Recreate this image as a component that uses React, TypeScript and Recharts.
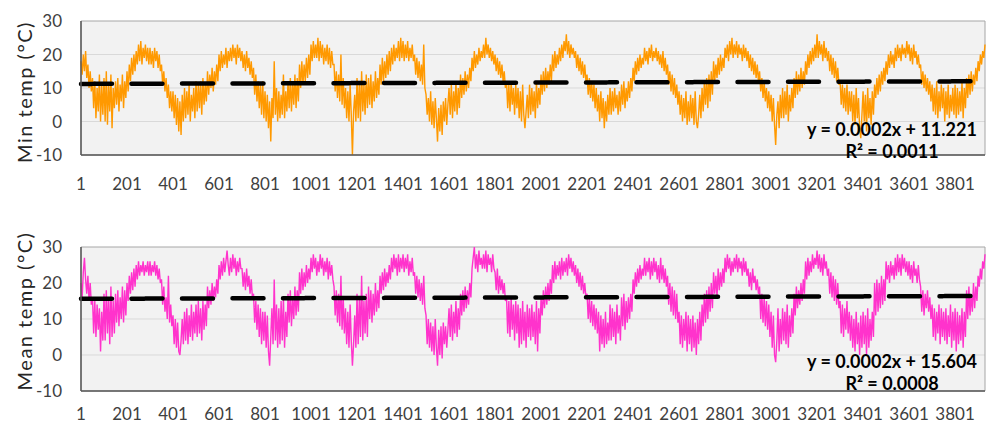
import { CartesianGrid, Line, LineChart, ReferenceArea, XAxis, YAxis } from 'recharts';

// daily record sampled every 5 days, first sample on day 1
const DAY_STEP = 5;
const LAST_DAY = 3931;

const xTicks = [1, 201, 401, 601, 801, 1001, 1201, 1401, 1601, 1801, 2001, 2201, 2401, 2601, 2801, 3001, 3201, 3401, 3601, 3801];
const yTicks = [-10, 0, 10, 20, 30];

// one row per 100 days
const minTemp = [
  18, 14, 20, 15, 21, 13, 17, 10, 15, 9, 13, 4, 12, 1, 10, 3, 14, 0, 11, 2,
  13, 0, 15, -1, 11, 3, 14, -2, 10, 4, 12, 5, 13, 3, 11, 6, 14, 4, 12, 7,
  15, 9, 17, 12, 19, 14, 20, 15, 21, 17, 23, 18, 24, 17, 22, 19, 23, 18, 22, 17,
  22, 17, 21, 16, 22, 18, 21, 16, 20, 15, 17, 11, 15, 9, 13, 7, 11, 4, 9, 3,
  9, 1, 8, -1, 7, -3, 6, -4, 8, 0, 10, 1, 9, 2, 11, 0, 8, 3, 10, 1,
  12, 3, 11, 4, 12, 2, 13, 5, 11, 6, 15, 8, 14, 10, 16, 9, 15, 11, 17, 12,
  20, 15, 21, 16, 20, 17, 22, 16, 21, 18, 22, 18, 23, 19, 22, 17, 23, 19, 22, 18,
  21, 16, 20, 15, 21, 16, 19, 14, 18, 13, 16, 8, 14, 6, 12, 4, 11, 2, 12, 1,
  9, 0, 8, -2, 6, -6, 7, 1, 18, 2, 10, 0, 9, 1, 8, 2, 14, 1, 9, 3,
  12, 4, 13, 3, 12, 5, 14, 4, 13, 6, 17, 10, 18, 11, 17, 12, 19, 13, 20, 14,
  23, 18, 24, 19, 23, 19, 25, 18, 24, 19, 23, 17, 22, 18, 23, 17, 22, 16, 21, 17,
  17, 9, 15, 7, 14, 6, 20, 5, 13, 4, 10, 1, 9, 0, 11, 2, -10, 3, 8, 0,
  13, 1, 12, 0, 15, 3, 11, 2, 14, 4, 13, 5, 14, 4, 12, 6, 15, 7, 13, 8,
  17, 11, 19, 12, 18, 13, 20, 14, 21, 15, 22, 17, 23, 18, 22, 19, 24, 18, 25, 19,
  24, 18, 23, 19, 24, 18, 22, 19, 23, 18, 20, 14, 19, 13, 18, 12, 17, 11, 23, 10,
  8, 2, 7, 0, 9, -1, 6, -2, 7, 1, -6, 4, -3, 5, -4, 6, 0, 7, -1, 5,
  10, 2, 11, 1, 9, 3, 12, 2, 10, 4, 14, 7, 13, 8, 15, 9, 14, 10, 16, 12,
  19, 15, 21, 16, 20, 17, 22, 18, 21, 19, 23, 19, 25, 20, 23, 19, 22, 18, 21, 17,
  20, 15, 19, 14, 18, 13, 17, 12, 15, 10, 12, 4, 11, 3, 12, 5, 10, 2, 11, 4,
  10, 1, 9, 0, 11, 2, -2, 3, 8, 1, 11, 2, 10, 3, 9, 1, 12, 4, 10, 5,
  14, 8, 15, 9, 16, 10, 15, 11, 17, 12, 20, 15, 21, 16, 20, 17, 22, 18, 23, 19,
  24, 21, 26, 20, 24, 19, 23, 20, 22, 19, 21, 16, 20, 15, 19, 14, 18, 13, 17, 12,
  14, 8, 13, 7, 12, 6, 11, 4, 10, 3, 8, 0, 9, 1, 7, -2, 6, 0, 8, 2,
  10, 2, 9, 3, 10, 4, 8, 2, 9, 3, 11, 5, 12, 4, 10, 6, 12, 7, 13, 9,
  16, 12, 18, 14, 19, 15, 20, 16, 19, 17, 22, 18, 21, 17, 22, 19, 23, 18, 21, 19,
  22, 18, 21, 17, 20, 16, 21, 15, 19, 14, 17, 11, 15, 9, 14, 8, 13, 7, 11, 5,
  9, 2, 8, 0, 7, 1, 9, -1, 6, 0, 8, 1, 7, -1, 9, 0, -2, 2, 8, 1,
  10, 3, 12, 5, 13, 4, 14, 6, 15, 8, 18, 12, 17, 13, 19, 14, 20, 15, 19, 16,
  22, 19, 23, 18, 24, 20, 25, 19, 23, 20, 24, 19, 23, 20, 22, 18, 23, 19, 22, 18,
  21, 16, 20, 15, 19, 14, 18, 13, 17, 12, 15, 9, 13, 7, 12, 6, 10, 4, 9, 3,
  8, 0, 7, -1, -7, 2, 6, -2, 8, 1, 10, 1, 9, 2, 11, 0, 8, 3, 10, 4,
  13, 7, 15, 8, 14, 9, 16, 10, 15, 11, 18, 14, 20, 16, 21, 17, 22, 18, 23, 19,
  26, 19, 24, 20, 23, 18, 24, 19, 22, 18, 21, 15, 20, 14, 19, 13, 18, 12, 16, 11,
  12, 5, 11, 4, 10, 3, 11, 2, 9, 3, 9, 0, 8, -1, 10, 1, 7, -2, -5, 2,
  9, 0, 8, -3, 10, 1, 7, -1, 9, 2, 11, 7, 13, 8, 14, 9, 15, 11, 16, 12,
  18, 14, 20, 16, 21, 17, 20, 16, 22, 18, 23, 19, 22, 18, 23, 20, 22, 19, 24, 20,
  23, 18, 22, 17, 23, 19, 21, 17, 20, 16, 17, 11, 15, 10, 14, 9, 13, 8, 12, 6,
  11, 3, 10, 2, 12, 1, 9, 3, 11, 4, 10, 0, 9, 2, 11, 1, 8, 3, 10, 2,
  11, 1, 10, 2, 9, 3, 12, 1, 10, 4, 13, 7, 14, 8, 15, 9, 14, 11, 16, 12,
  18, 15, 20, 17, 21, 19, 23,
];

const meanTemp = [
  20, 16, 23, 27, 21, 17, 22, 15, 20, 14, 16, 6, 15, 5, 14, 7, 13, 1, 12, 4,
  17, 4, 18, 6, 16, 3, 19, 5, 15, 6, 17, 9, 18, 8, 16, 10, 19, 9, 18, 11,
  20, 15, 22, 17, 23, 18, 24, 19, 25, 21, 26, 22, 25, 23, 26, 22, 25, 23, 26, 22,
  26, 22, 25, 23, 26, 22, 25, 21, 24, 20, 21, 14, 19, 12, 16, 10, 22, 9, 14, 8,
  11, 3, 10, 2, 9, 1, 0, 4, 10, 3, 12, 4, 13, 3, 11, 5, 14, 4, 12, 6,
  14, 5, 15, 6, 13, 4, 15, 7, 14, 8, 19, 13, 18, 14, 20, 15, 19, 16, 21, 17,
  25, 21, 26, 22, 27, 23, 26, 29, 25, 22, 27, 23, 28, 24, 27, 22, 26, 23, 27, 24,
  24, 19, 23, 18, 24, 19, 22, 17, 21, 16, 17, 9, 15, 7, 14, 5, 13, 3, 12, 4,
  12, 2, 11, 1, -3, 5, 13, 3, 21, 4, 14, 2, 13, 3, 15, 4, 16, 2, 12, 5,
  17, 9, 18, 8, 16, 10, 19, 11, 18, 12, 23, 17, 24, 18, 23, 19, 25, 20, 24, 21,
  27, 23, 28, 24, 27, 22, 26, 23, 28, 24, 27, 22, 26, 23, 27, 21, 26, 22, 25, 21,
  19, 11, 18, 9, 17, 8, 22, 7, 16, 6, 13, 3, 12, 2, 14, 4, -3, 3, 11, 2,
  17, 3, 16, 5, 22, 4, 15, 6, 17, 5, 19, 10, 18, 9, 17, 11, 20, 12, 18, 13,
  22, 17, 23, 18, 24, 19, 23, 20, 25, 21, 27, 23, 28, 24, 27, 22, 28, 23, 27, 24,
  28, 23, 27, 24, 28, 22, 26, 23, 27, 22, 23, 17, 22, 16, 21, 15, 20, 14, 22, 13,
  11, 3, 10, 2, 9, 1, 8, 0, 10, 2, -3, 7, 0, 8, -1, 9, 3, 8, 2, 7,
  13, 5, 14, 4, 12, 6, 15, 5, 13, 7, 17, 11, 18, 12, 19, 13, 18, 14, 20, 16,
  24, 27, 30, 24, 28, 23, 29, 25, 27, 24, 28, 24, 29, 23, 28, 25, 27, 23, 28, 24,
  23, 18, 24, 17, 22, 18, 21, 17, 20, 15, 16, 6, 15, 5, 16, 7, 14, 4, 15, 6,
  14, 2, 13, 3, 15, 4, 12, 2, 14, 5, 13, 4, 14, 5, 12, 3, 15, 1, 13, 6,
  16, 11, 18, 13, 19, 14, 20, 15, 21, 17, 25, 20, 26, 21, 25, 22, 26, 21, 27, 22,
  26, 23, 27, 22, 28, 24, 27, 23, 26, 22, 25, 20, 24, 19, 23, 18, 22, 17, 20, 16,
  17, 10, 16, 9, 15, 8, 14, 7, 13, 6, 12, 1, 11, 3, 10, 2, 12, 3, 9, 4,
  14, 4, 13, 5, 12, 3, 14, 6, 11, 4, 16, 8, 17, 7, 15, 9, 16, 10, 17, 12,
  21, 17, 23, 19, 24, 20, 25, 21, 24, 22, 27, 22, 26, 23, 27, 21, 26, 22, 27, 23,
  26, 21, 25, 20, 27, 21, 25, 20, 24, 19, 22, 14, 20, 12, 19, 11, 18, 10, 17, 9,
  12, 3, 11, 2, 10, 4, 12, 1, 11, 3, 10, 1, 11, 2, 9, 0, 10, 3, 12, 4,
  14, 8, 17, 9, 18, 10, 19, 12, 20, 13, 23, 17, 22, 16, 24, 18, 23, 19, 24, 20,
  27, 23, 28, 24, 27, 22, 26, 23, 27, 24, 28, 23, 27, 24, 26, 22, 27, 23, 26, 22,
  24, 19, 23, 18, 24, 20, 22, 18, 21, 17, 19, 10, 17, 9, 16, 8, 15, 7, 14, 5,
  12, 2, 11, 0, -2, 4, 13, 1, 10, 3, 13, 4, 12, 3, 14, 2, 11, 5, 13, 6,
  17, 11, 19, 13, 18, 14, 20, 15, 21, 17, 26, 21, 27, 22, 26, 23, 28, 24, 27, 25,
  29, 24, 28, 23, 27, 22, 28, 24, 26, 22, 24, 17, 23, 16, 22, 15, 21, 14, 20, 13,
  15, 6, 14, 5, 13, 7, 15, 6, 12, 4, 11, 2, 10, 1, 12, 3, 9, 0, 11, 2,
  12, 3, 11, 0, 13, 2, 10, 4, 12, 5, 20, 11, 21, 12, 20, 13, 22, 14, 21, 15,
  26, 21, 25, 20, 26, 22, 25, 21, 27, 22, 28, 23, 27, 22, 28, 24, 27, 23, 26, 22,
  26, 21, 25, 20, 26, 22, 24, 20, 25, 21, 19, 12, 18, 11, 17, 13, 18, 12, 16, 10,
  14, 5, 13, 4, 12, 6, 14, 3, 13, 5, 12, 4, 13, 3, 11, 5, 14, 2, 12, 4,
  13, 1, 12, 3, 11, 4, 13, 2, 12, 5, 18, 10, 19, 11, 17, 12, 20, 13, 19, 15,
  22, 19, 24, 21, 26, 24, 28,
];

// linear trend lines as printed on the chart
const minFit = { slope: 0.0002, intercept: 11.221, r2: '0.0011' };
const meanFit = { slope: 0.0002, intercept: 15.604, r2: '0.0008' };

type Fit = typeof minFit;

const FONT = 'Lato, "Liberation Sans", sans-serif';

function buildRows(values: number[], fit: Fit) {
  return values.map((temp, i) => {
    const day = 1 + i * DAY_STEP;
    return { day, temp, trend: fit.slope * day + fit.intercept };
  });
}

interface PanelProps {
  title: string;
  values: number[];
  fit: Fit;
  color: string;
  top: number;
  height: number;
  axisHeight: number;
  labelGap: number;
  titleY: number;
  eqY: number;
}

function Panel({ title, values, fit, color, top, height, axisHeight, labelGap, titleY, eqY }: PanelProps) {
  const rows = buildRows(values, fit);
  return (
    <div style={{ position: 'absolute', left: 0, top, width: 987, height }}>
      <LineChart width={987} height={height} data={rows} margin={{ top: 21, right: 2, bottom: 0, left: 0 }}>
        <CartesianGrid vertical={false} fill="#f2f2f2" stroke="#d9d9d9" horizontalValues={[0, 10, 20]} />
        <ReferenceArea x1={1} x2={LAST_DAY} y1={-10} y2={30} fill="none" stroke="#a6a6a6" strokeWidth={1} />
        <XAxis
          dataKey="day"
          type="number"
          domain={[1, LAST_DAY]}
          ticks={xTicks}
          interval={0}
          height={axisHeight}
          tickLine={false}
          tickSize={0}
          tickMargin={labelGap}
          axisLine={{ stroke: '#595959', strokeWidth: 1.5 }}
          tick={{ fontSize: 17, fill: '#404040', fontFamily: FONT }}
        />
        <YAxis
          type="number"
          domain={[-10, 30]}
          ticks={yTicks}
          interval={0}
          width={81}
          tickLine={false}
          tickSize={0}
          tickMargin={19}
          axisLine={{ stroke: '#595959', strokeWidth: 1.5 }}
          tick={{ fontSize: 17, fill: '#404040', fontFamily: FONT }}
          label={{
            content: () => (
              <text
                x={32}
                y={titleY}
                transform={`rotate(-90 32 ${titleY})`}
                textAnchor="middle"
                fontSize={20}
                letterSpacing={1.5}
                fontFamily={FONT}
                fill="#262626"
              >
                {title}
              </text>
            ),
          }}
        />
        <Line
          dataKey="temp"
          stroke={color}
          strokeWidth={1.4}
          dot={false}
          isAnimationActive={false}
        />
        <Line
          dataKey="trend"
          stroke="#000000"
          strokeWidth={4.5}
          strokeDasharray="31 19.5"
          strokeLinecap="round"
          dot={false}
          isAnimationActive={false}
        />
      </LineChart>
      <svg
        width={987}
        height={height}
        style={{ position: 'absolute', left: 0, top: 0, pointerEvents: 'none' }}
      >
        <g fontFamily={FONT} fontWeight={700} fontSize={18} fill="#000000" textAnchor="middle">
          <text x={892} y={eqY}>{`y = ${fit.slope}x + ${fit.intercept}`}</text>
          <text x={892} y={eqY + 22}>{`R² = ${fit.r2}`}</text>
        </g>
      </svg>
    </div>
  );
}

export default function App() {
  return (
    <div style={{ position: 'absolute', left: 0, top: 0, width: 987, height: 424, background: '#ffffff', fontFamily: FONT }}>
      <Panel
        title="Min temp (°C)"
        values={minTemp}
        fit={minFit}
        color="#ff9900"
        top={0}
        height={200}
        axisHeight={45}
        labelGap={23}
        titleY={92}
        eqY={136}
      />
      <Panel
        title="Mean temp (°C)"
        values={meanTemp}
        fit={meanFit}
        color="#ff33cc"
        top={226}
        height={198}
        axisHeight={33}
        labelGap={17}
        titleY={85}
        eqY={142}
      />
    </div>
  );
}
